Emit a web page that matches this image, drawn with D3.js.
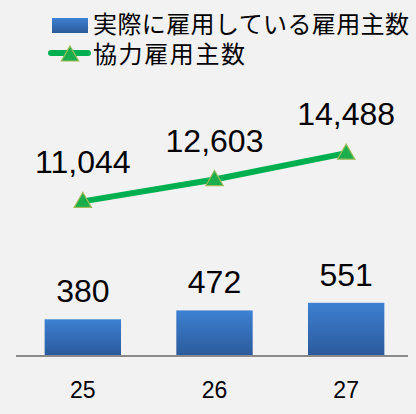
<!DOCTYPE html>
<html><head><meta charset="utf-8">
<script src="https://cdn.jsdelivr.net/npm/d3@7"></script>
<style>html,body{margin:0;padding:0;background:#f2f2f2;}svg{display:block;}</style>
</head><body>
<svg id="c" width="416" height="414"></svg>
<script>
const categories = ["25", "26", "27"];
const barValues = [380, 472, 551];
const lineValues = [11044, 12603, 14488];
const seriesNames = ["実際に雇用している雇用主数", "協力雇用主数"];

const svg = d3.select("#c");
const W = 416, H = 414;
svg.append("rect").attr("width", W).attr("height", H).attr("fill", "#f2f2f2");

const defs = svg.append("defs");
const g1 = defs.append("linearGradient").attr("id", "barGrad").attr("x1", 0).attr("y1", 0).attr("x2", 0).attr("y2", 1);
g1.append("stop").attr("offset", "0%").attr("stop-color", "#3d80d2");
g1.append("stop").attr("offset", "100%").attr("stop-color", "#2b5a9b");

const x = d3.scaleBand().domain(categories).range([17, 412]).paddingInner(0.42).paddingOuter(0.21);
const yBar = d3.scaleLinear().domain([0, 2900]).range([356, 76]);
const yLine = d3.scaleLinear().domain([0, 20000]).range([356, 76]);
const fmt = d3.format(",");

// bars
svg.selectAll("rect.bar").data(barValues).join("rect").attr("class", "bar")
  .attr("x", (d, i) => x(categories[i]))
  .attr("y", d => yBar(d))
  .attr("width", x.bandwidth())
  .attr("height", d => yBar(0) - yBar(d))
  .attr("fill", "url(#barGrad)");

// baseline axis
const axis = d3.axisBottom(x).tickSize(0).tickPadding(0);
const ax = svg.append("g").attr("transform", `translate(0,${yBar(0)})`).call(axis);
ax.select(".domain").attr("d", "M16,0H408").attr("stroke", "#8a8a8a").attr("stroke-width", 2);
ax.selectAll(".tick text").attr("y", 42).attr("dy", null)
  .attr("font-family", "Liberation Sans, Arial, sans-serif").attr("font-size", 23).attr("fill", "#000");

// bar labels
svg.selectAll("text.bl").data(barValues).join("text").attr("class", "bl")
  .attr("x", (d, i) => x(categories[i]) + x.bandwidth() / 2)
  .attr("y", d => yBar(d) - 17)
  .attr("text-anchor", "middle")
  .attr("font-family", "Liberation Sans, Arial, sans-serif").attr("font-size", 32).attr("fill", "#000")
  .text(d => fmt(d));

// line
const cx = (i) => x(categories[i]) + x.bandwidth() / 2;
const line = d3.line().x((d, i) => cx(i)).y(d => yLine(d));
svg.append("path").datum(lineValues).attr("d", line)
  .attr("fill", "none").attr("stroke", "#00b050").attr("stroke-width", 6).attr("stroke-linecap", "round");

const tri = d3.symbol().type(d3.symbolTriangle).size(130);
svg.selectAll("path.mk").data(lineValues).join("path").attr("class", "mk")
  .attr("d", tri)
  .attr("transform", (d, i) => `translate(${cx(i)},${yLine(d) + 1})`)
  .attr("fill", "#1aad4b").attr("stroke", "#9bbb59").attr("stroke-width", 1.2);

svg.selectAll("text.ll").data(lineValues).join("text").attr("class", "ll")
  .attr("x", (d, i) => cx(i))
  .attr("y", d => yLine(d) - 28)
  .attr("text-anchor", "middle")
  .attr("font-family", "Liberation Sans, Arial, sans-serif").attr("font-size", 32).attr("fill", "#000")
  .text(d => fmt(d));

// legend
const lg = svg.append("g");
lg.append("rect").attr("x", 52).attr("y", 18).attr("width", 36).attr("height", 15).attr("fill", "url(#barGrad)");
lg.append("line").attr("x1", 51).attr("x2", 88).attr("y1", 53).attr("y2", 53)
  .attr("stroke", "#00b050").attr("stroke-width", 6).attr("stroke-linecap", "round");
lg.append("path").attr("d", tri).attr("transform", "translate(70,56)")
  .attr("fill", "#1aad4b").attr("stroke", "#9bbb59").attr("stroke-width", 1.2);
lg.selectAll("text").data(seriesNames).join("text")
  .attr("x", 93).attr("y", (d, i) => 33 + i * 30)
  .attr("font-family", "Noto Sans CJK JP, sans-serif").attr("font-size", 24).attr("fill", "#000")
  .attr("textLength", (d, i) => i === 0 ? 316 : 152).attr("lengthAdjust", "spacing")
  .text(d => d);
</script>
</body></html>
